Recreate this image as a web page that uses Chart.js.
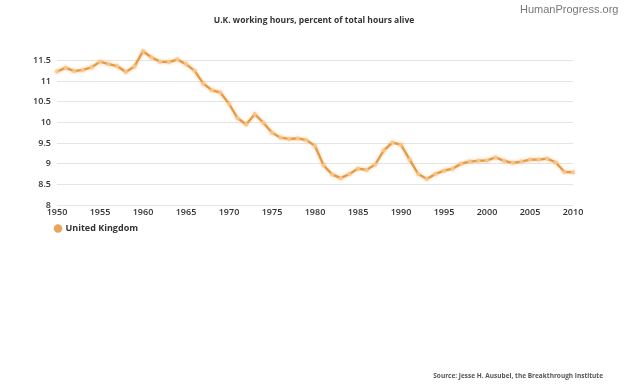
<!DOCTYPE html>
<html>
<head>
<meta charset="utf-8">
<script src="https://cdn.jsdelivr.net/npm/chart.js@4.4.0/dist/chart.umd.min.js"></script>
<style>
  html, body { margin: 0; padding: 0; background: #fff; }
  #wrap { position: relative; width: 624px; height: 386px; overflow: hidden; }
  #chart { position: absolute; left: 0; top: 0; }
  .txt { position: absolute; white-space: nowrap; }
  #brand { left: 520px; top: 3px; font: 11px "Liberation Sans", Arial, sans-serif; color: #777; }
  #title { left: 0; width: 628px; top: 14px; text-align: center; font: bold 8.5px "Open Sans", sans-serif; color: #333; }
  #source { right: 21px; top: 371px; font: bold 6.5px "Open Sans", sans-serif; color: #555; }
</style>
</head>
<body>
<div id="wrap">
  <canvas id="chart" width="624" height="386"></canvas>
  <div class="txt" id="brand">HumanProgress.org</div>
  <div class="txt" id="title">U.K. working hours, percent of total hours alive</div>
  <div class="txt" id="source">Source: Jesse H. Ausubel, the Breakthrough Institute</div>
</div>
<script>
let years = [1950, 1951, 1952, 1953, 1954, 1955, 1956, 1957, 1958, 1959,
             1960, 1961, 1962, 1963, 1964, 1965, 1966, 1967, 1968, 1969,
             1970, 1971, 1972, 1973, 1974, 1975, 1976, 1977, 1978, 1979,
             1980, 1981, 1982, 1983, 1984, 1985, 1986, 1987, 1988, 1989,
             1990, 1991, 1992, 1993, 1994, 1995, 1996, 1997, 1998, 1999,
             2000, 2001, 2002, 2003, 2004, 2005, 2006, 2007, 2008, 2009, 2010];
let ukHours = [11.23, 11.32, 11.24, 11.27, 11.33, 11.47, 11.41, 11.36, 11.22, 11.35,
               11.72, 11.57, 11.47, 11.46, 11.52, 11.41, 11.25, 10.94, 10.78, 10.72,
               10.45, 10.10, 9.95, 10.20, 9.99, 9.75, 9.63, 9.60, 9.61, 9.57,
               9.43, 8.96, 8.74, 8.65, 8.75, 8.88, 8.85, 8.98, 9.32, 9.51,
               9.46, 9.10, 8.75, 8.63, 8.75, 8.83, 8.88, 9.00, 9.05, 9.07,
               9.08, 9.15, 9.07, 9.02, 9.05, 9.10, 9.10, 9.12, 9.03, 8.80, 8.79];
let yTicks = [8, 8.5, 9, 9.5, 10, 10.5, 11, 11.5];
let yTickLabels = ['8', '8.5', '9', '9.5', '10', '10.5', '11', '11.5'];

const tickFont = { family: 'Open Sans', size: 9, weight: '600' };

// soft orange halo round the line
const glow = {
  id: 'glow',
  beforeDatasetDraw(chart) {
    chart.ctx.save();
    chart.ctx.shadowColor = 'rgba(245,185,115,0.7)';
    chart.ctx.shadowBlur = 3;
  },
  afterDatasetDraw(chart) {
    chart.ctx.restore();
  }
};

// legend sits under the plot, not at the canvas edge
const legendShift = {
  id: 'legendShift',
  afterLayout(chart) {
    chart.legend.left = 49;
  }
};

let ctx = document.getElementById('chart').getContext('2d');
let chart = new Chart(ctx, {
  type: 'line',
  data: {
    labels: years,
    datasets: [{
      label: 'United Kingdom',
      data: ukHours,
      borderColor: '#E59A45',
      backgroundColor: '#E9A55A',
      borderWidth: 2.3,
      tension: 0,
      pointRadius: 2,
      pointBackgroundColor: 'rgba(247,200,145,0.9)',
      pointBorderWidth: 0,
      pointStyle: 'circle'
    }]
  },
  options: {
    responsive: false,
    animation: false,
    layout: { padding: { left: 0, right: 51, top: 48, bottom: 143 } },
    plugins: {
      legend: {
        position: 'bottom',
        align: 'start',
        labels: {
          usePointStyle: true,
          pointStyle: 'circle',
          boxWidth: 6,
          boxHeight: 6,
          padding: 6,
          color: '#333',
          font: { family: 'Open Sans', size: 9, weight: 'bold' },
          generateLabels: function(c) {
            let items = Chart.defaults.plugins.legend.labels.generateLabels(c);
            items.forEach(it => { it.fillStyle = '#E9A55A'; it.strokeStyle = '#E9A55A'; it.lineWidth = 0; });
            return items;
          }
        }
      },
      tooltip: { enabled: false }
    },
    scales: {
      x: {
        offset: false,
        grid: { display: false, drawTicks: false },
        border: { display: false },
        ticks: {
          autoSkip: false,
          maxRotation: 0,
          padding: 2,
          color: '#333',
          font: tickFont,
          callback: function(v, i) { return years[i] % 5 === 0 ? years[i] : ''; }
        },
        afterFit: function(s) { s.height = 13; }
      },
      y: {
        min: 8,
        max: 11.8,
        grid: { color: '#e4e4e4', drawTicks: false },
        border: { display: false },
        ticks: {
          padding: 6,
          color: '#333',
          font: tickFont,
          callback: function(v) { return yTickLabels[yTicks.indexOf(v)]; }
        },
        afterBuildTicks: function(s) { s.ticks = yTicks.map(v => ({ value: v })); },
        afterFit: function(s) { s.width = 57; }
      }
    }
  },
  plugins: [glow, legendShift]
});
</script>
</body>
</html>
